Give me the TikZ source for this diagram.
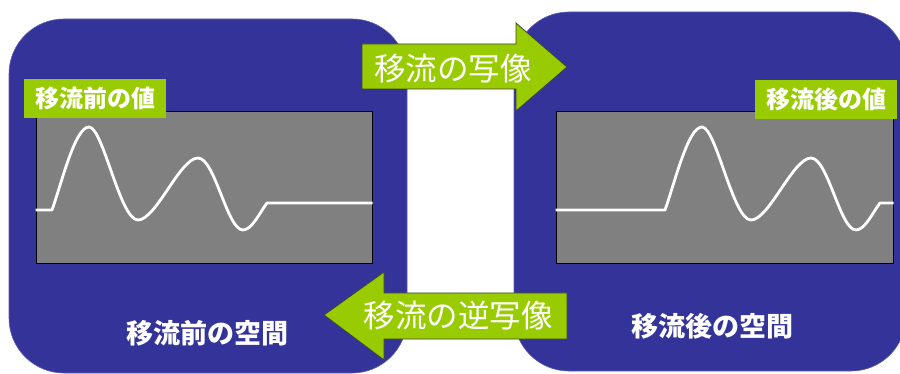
\documentclass[tikz,border=0pt]{standalone}
\usepackage{fontspec}
\setmainfont{Noto Sans CJK JP}
\definecolor{spaceblue}{HTML}{333399}
\definecolor{lgreen}{HTML}{99CC00}
\definecolor{panelgray}{HTML}{808080}
\tikzset{
  spacebox/.style={fill=spaceblue, rounded corners=55pt, inner sep=0pt, draw=spaceblue!80!white, line width=0.6pt},
  panel/.style={fill=panelgray, draw=black, line width=1pt, inner sep=0pt},
  vallabel/.style={fill=lgreen, inner sep=0pt, text=white, font=\bfseries\fontsize{24}{24}\selectfont, minimum width=142pt, minimum height=39pt},
  spacetitle/.style={text=white, font=\bfseries\fontsize{27}{27}\selectfont, inner sep=0pt},
  blockarrow/.style={fill=lgreen, draw=black!75, line width=0.8pt},
  arrowtext/.style={text=white, font=\fontsize{31.5}{31.5}\selectfont, inner sep=0pt},
  wave/.style={draw=white, line width=2.8pt, line join=round}
}
\begin{document}
\begin{tikzpicture}[x=1pt,y=-1pt]
\useasboundingbox (0,0) rectangle (900,374);
\begin{scope}
\clip (0,0) rectangle (900,374);
% spaces
\node[spacebox, minimum width=398pt, minimum height=354pt] (leftspace) at (208,196) {};
\node[spacebox, minimum width=392pt, minimum height=359pt] (rightspace) at (710,191.5) {};
% panels
\node[panel, minimum width=336pt, minimum height=152pt] (leftpanel) at (204,188) {};
\node[panel, minimum width=337pt, minimum height=152pt] (rightpanel) at (724.5,188) {};
% waves
\begin{scope}
\clip (leftpanel.south west) rectangle (leftpanel.north east);
\draw[wave] (leftpanel.west |- 0,210) -- (52,210)
  .. controls (62,182) and (75,127) .. (89,127)
  .. controls (103,127) and (120,220) .. (138,220)
  .. controls (156,220) and (180,158) .. (198,158)
  .. controls (215,158) and (227,230) .. (243,230)
  .. controls (252,230) and (260,212) .. (267,203)
  -- (leftpanel.east |- 0,203);
\end{scope}
\begin{scope}
\clip (rightpanel.south west) rectangle (rightpanel.north east);
\draw[wave] (rightpanel.west |- 0,210) -- (665,210)
  .. controls (675,182) and (688,127) .. (702,127)
  .. controls (716,127) and (733,220) .. (751,220)
  .. controls (769,220) and (793,158) .. (811,158)
  .. controls (828,158) and (840,230) .. (856,230)
  .. controls (865,230) and (873,212) .. (880,203)
  -- (rightpanel.east |- 0,203);
\end{scope}
% value labels
\node[vallabel] (leftval) at (95,98.5) {移流前の値};
\node[vallabel] (rightval) at (826,99.5) {移流後の値};
% titles
\node[spacetitle] (lefttitle) at (207,333) {移流前の空間};
\node[spacetitle] (righttitle) at (712,326) {移流後の空間};
% block arrows
\draw[blockarrow] (362,44) -- (516,44) -- (516,23) -- (567,67) -- (516,111) -- (516,89) -- (362,89) -- cycle;
\node[arrowtext] (maplabel) at (453,69) {移流の写像};
\draw[blockarrow] (567,293) -- (384,293) -- (384,272) -- (324,315) -- (384,360) -- (384,339) -- (567,339) -- cycle;
\node[arrowtext] (invlabel) at (458,316) {移流の逆写像};
\end{scope}
\end{tikzpicture}
\end{document}
